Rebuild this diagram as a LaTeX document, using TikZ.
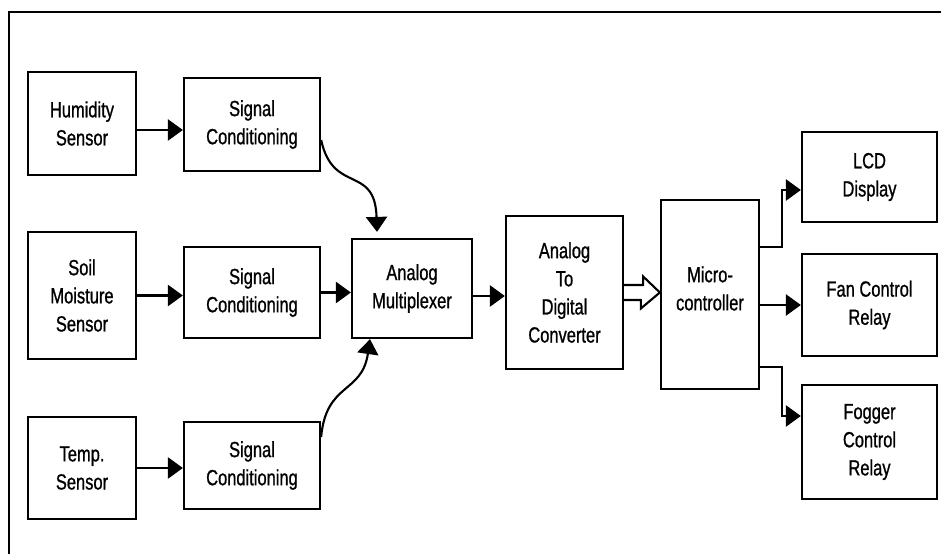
\documentclass[tikz,border=0pt]{standalone}
\usepackage{fontspec}
\setmainfont[FakeStretch=0.75,FakeBold=0.9]{Liberation Sans}
\usetikzlibrary{arrows.meta}
\usetikzlibrary{calc}

\tikzset{
	blk/.style={draw, line width=1.3pt, align=center, inner sep=0pt, font=\fontsize{12.5}{16}\selectfont},
	arr/.style={line width=1.2pt, -{Triangle[length=8.5pt,width=12pt]}},
	bus/.style={line width=1.2pt, line join=miter}
}

\begin{document}
\begin{tikzpicture}
			\useasboundingbox (0,0) rectangle (18.82,11.08);
			\draw [line width=1.1pt] (0.18,0) |- (18.82,10.84);
			\node[blk, minimum width=2.16cm, minimum height=2.06cm] (hum) at (1.64,8.61) {Humidity\\Sensor};
			\node[blk, minimum width=2.16cm, minimum height=2.54cm] (soil) at (1.64,5.17) {Soil\\Moisture\\Sensor};
			\node[blk, minimum width=2.16cm, minimum height=2.04cm] (temp) at (1.64,1.72) {Temp.\\Sensor};
			\node[blk, minimum width=2.72cm, minimum height=1.86cm] (sc1) at (5.04,8.59) {Signal\\Conditioning};
			\node[blk, minimum width=2.72cm, minimum height=1.82cm] (sc2) at (5.04,5.23) {Signal\\Conditioning};
			\node[blk, minimum width=2.72cm, minimum height=1.74cm] (sc3) at (5.04,1.77) {Signal\\Conditioning};
			\node[blk, minimum width=2.4cm, minimum height=1.98cm] (mux) at (8.24,5.31) {Analog\\Multiplexer};
			\node[blk, minimum width=2.34cm, minimum height=3.06cm] (adc) at (11.29,5.23) {Analog\\To\\Digital\\Converter};
			\node[blk, minimum width=1.96cm, minimum height=3.78cm] (mcu) at (14.2,5.19) {Micro-\\controller\\[-9pt]};
			\node[blk, minimum width=2.7cm, minimum height=1.8cm] (lcd) at (17.39,7.54) {LCD\\Display};
			\node[blk, minimum width=2.7cm, minimum height=2.04cm] (fan) at (17.39,4.98) {Fan Control\\Relay};
			\node[blk, minimum width=2.7cm, minimum height=2.28cm] (fog) at (17.39,2.24) {Fogger\\Control\\Relay};
			\draw [arr] ([yshift=-0.13cm]hum.east) coordinate (h) -- (h -| sc1.west);
			\draw [arr] (soil.east) -- (soil.east -| sc2.west);
			\draw [arr] (temp.east) -- (temp.east -| sc3.west);
			\draw [arr] (sc2.east) -- (sc2.east -| mux.west);
			\draw [arr] ([yshift=-0.31cm]sc1.east) .. controls +(0.24,-1.1) and +(-0.04,1.36) .. ([xshift=-0.7cm,yshift=0.12cm]mux.north);
			\draw [arr] ([yshift=0.57cm]sc3.east) .. controls +(0.1,1.1) and +(-0.16,-1.1) .. ([xshift=-0.84cm]mux.south);
			\draw [arr] ([yshift=-0.15cm]mux.east) coordinate (m) -- (m -| adc.west);
			\draw [bus] ([yshift=0.15cm]adc.east) -- ++(0.38,0) -- ++(0,0.17) -- (adc.east -| mcu.west) -- ++(-0.38,-0.32) -- ++(0,0.17) -- ([yshift=-0.15cm]adc.east);
			\draw [arr] ([yshift=0.95cm]mcu.east) -- ++(0.44,0) |- ([yshift=-0.26cm]lcd.west);
			\draw [arr] (mcu.east |- fan.west) -- (fan.west);
			\draw [arr] ([yshift=-1.45cm]mcu.east) -- ++(0.44,0) |- ([yshift=0.52cm]fog.west);
		\end{tikzpicture}
\end{document}
